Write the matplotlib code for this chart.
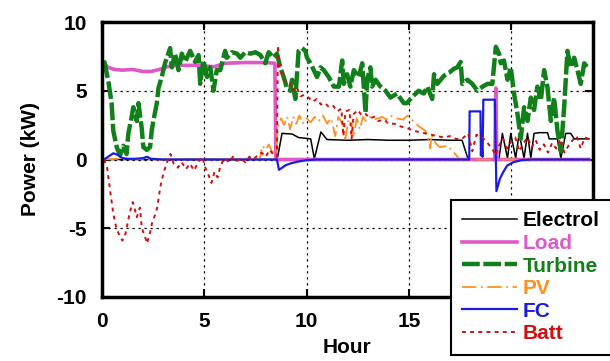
import matplotlib
matplotlib.use("Agg")
import matplotlib.pyplot as plt

plt.rcParams["font.family"] = ["Liberation Sans", "DejaVu Sans"]
plt.rcParams["font.weight"] = "bold"
plt.rcParams["font.size"] = 15
plt.rcParams["axes.unicode_minus"] = False

# ---- power flows over one day (hour, kW) ----
electrol_t = [0.1, 8.55, 8.6, 8.8, 9.3, 9.6, 10.2, 10.38, 10.7, 11.0, 12.0, 13.0, 14.0, 15.0,
              16.0, 17.0, 17.6, 17.9, 19.3, 19.41, 19.57, 19.82, 19.98, 20.22, 20.39, 20.63,
              20.8, 20.96, 21.12, 21.37, 21.78, 21.86, 22.26, 22.43, 22.67, 22.91, 23.08, 23.8]
electrol_kw = [0.0, 0.0, 0.3, 1.9, 1.85, 1.6, 1.5, 0.05, 2.0, 1.45, 1.4, 1.45, 1.4, 1.4,
               1.45, 1.4, 1.4, 0.0, 0.0, 0.1, 1.9, 0.1, 1.9, 0.1, 1.9, 0.1,
               1.9, 0.1, 1.9, 1.95, 1.95, 1.5, 1.5, 0.1, 1.9, 1.9, 1.5, 1.5]

load_t = [0.1, 0.3, 0.6, 1.0, 1.5, 2.0, 2.4, 2.8, 3.2, 3.6, 4.5, 5.0, 5.5, 6.0, 7.0, 8.0,
          8.45, 8.5, 19.2, 19.25, 19.3, 23.8]
load_kw = [7.0, 6.7, 6.55, 6.5, 6.55, 6.4, 6.4, 6.55, 6.75, 6.85, 6.85, 6.8, 6.75, 7.0, 7.05, 7.05,
           7.0, 0.0, 0.0, 5.2, 0.0, 0.0]

turbine_t = [0.10, 0.31, 0.47, 0.55, 0.72, 0.88, 1.04, 1.20, 1.29, 1.45, 1.53, 1.70, 1.78, 1.94,
             2.02, 2.19, 2.35, 2.43, 2.51, 2.68, 2.76, 2.92, 3.08, 3.33, 3.41, 3.57, 3.74, 3.90,
             4.06, 4.31, 4.55, 4.72, 4.80, 4.96, 5.13, 5.29, 5.45, 5.61, 5.78, 6.02, 6.10, 6.35,
             6.60, 6.76, 7.00, 7.25, 7.50, 7.74, 7.98, 8.15, 8.39, 8.55, 8.72, 8.88, 9.04, 9.20,
             9.29, 9.45, 9.61, 9.78, 9.94, 10.02, 10.19, 10.35, 10.51, 10.68, 10.84, 11.08, 11.33,
             11.58, 11.74, 11.82, 11.98, 12.14, 12.31, 12.55, 12.72, 12.88, 12.96, 13.12, 13.20,
             13.37, 13.61, 13.86, 14.10, 14.42, 14.75, 14.90, 15.20, 15.48, 15.73, 15.90, 16.14,
             16.23, 16.39, 16.72, 16.96, 17.20, 17.37, 17.53, 17.61, 17.86, 18.10, 18.35, 18.60,
             18.84, 19.08, 19.25, 19.41, 19.49, 19.65, 19.82, 19.98, 20.14, 20.31, 20.47, 20.63,
             20.80, 20.96, 21.12, 21.28, 21.45, 21.61, 21.77, 21.94, 22.10, 22.26, 22.43, 22.59,
             22.75, 22.91, 23.08, 23.24, 23.40, 23.57, 23.73]
turbine_kw = [7.2, 5.7, 4.1, 2.1, 0.9, 0.3, 1.0, 0.4, 1.9, 3.1, 3.8, 2.8, 4.1, 2.3,
              0.9, 0.7, 0.9, 2.1, 2.8, 4.1, 5.2, 6.0, 7.0, 8.1, 6.7, 7.7, 6.5, 7.7,
              7.1, 7.9, 7.1, 7.6, 5.5, 7.2, 6.0, 6.7, 5.0, 6.5, 6.5, 7.9, 7.4, 7.8,
              7.7, 7.4, 7.8, 7.7, 7.8, 7.6, 7.0, 7.8, 7.4, 7.7, 6.7, 6.0, 5.2, 5.0,
              5.8, 4.4, 7.9, 8.1, 7.9, 7.4, 7.0, 6.5, 6.0, 6.7, 6.5, 6.0, 5.3,
              5.3, 7.2, 5.5, 6.2, 5.3, 6.5, 6.0, 7.0, 3.4, 5.8, 6.7, 5.3,
              5.8, 5.3, 5.0, 4.5, 4.8, 4.1, 4.1, 4.6, 5.0, 4.8, 5.3, 4.4,
              6.2, 5.5, 6.1, 6.3, 6.6, 6.7, 7.1, 5.5, 5.8, 5.5, 5.0, 5.3,
              5.5, 5.5, 8.2, 7.7, 7.0, 7.2, 5.8, 6.7, 4.8, 3.3, 1.5, 3.8,
              2.8, 4.5, 3.6, 5.3, 4.3, 6.5, 5.3, 2.8, 4.5, 2.1, 0.6, 3.8,
              7.9, 6.7, 7.4, 6.5, 5.5, 7.0, 6.7]

pv_t = [0.1, 0.8, 1.0, 2.2, 2.5, 7.7, 7.85, 8.0, 8.15, 8.3, 8.5, 8.6, 8.75, 8.9, 9.05, 9.2,
        9.35, 9.5, 9.65, 9.8, 10.0, 10.2, 10.4, 10.6, 10.8, 11.0, 11.2, 11.4, 11.55, 11.75,
        11.9, 12.05, 12.2, 12.3, 12.45, 12.6, 12.75, 12.9, 13.1, 13.3, 13.5, 13.7, 13.9, 14.1,
        14.4, 14.7, 14.95, 15.2, 15.5, 15.8, 15.95, 16.05, 16.1, 16.3, 16.5, 16.9, 17.5, 23.8]
pv_kw = [0.0, 0.05, 0.0, 0.05, 0.0, 0.0, 1.0, 0.7, 1.1, 0.6, 0.4, 2.4, 3.0, 2.5, 3.1, 2.2,
         3.1, 2.6, 3.2, 2.6, 3.0, 2.7, 3.1, 2.8, 3.2, 2.6, 3.0, 1.7, 3.1, 2.6,
         1.5, 2.9, 2.7, 1.6, 3.0, 2.2, 3.1, 2.8, 3.1, 2.9, 3.0, 3.1, 2.9, 3.2,
         3.0, 2.9, 3.2, 2.8, 2.4, 2.1, 1.5, 0.8, 1.8, 1.2, 0.9, 1.0, 0.0, 0.0]

fc_t = [0.1, 0.3, 0.55, 0.75, 1.0, 1.3, 1.6, 2.0, 2.2, 2.4, 3.0, 8.55, 8.65, 8.8, 9.0, 9.3,
        9.6, 10.0, 10.5, 17.95, 17.97, 18.5, 18.52, 18.56, 18.6, 18.64, 19.2, 19.28, 19.45,
        19.6, 19.8, 20.1, 20.5, 21.0, 23.8]
fc_kw = [0.0, 0.2, 0.45, 0.35, 0.1, 0.05, 0.05, 0.1, 0.2, 0.05, 0.0, 0.0, -0.75, -0.6, -0.4, -0.25,
         -0.15, -0.05, 0.0, 0.0, 3.5, 3.5, 0.3, 1.0, 0.2, 4.35, 4.35, -2.3, -1.4,
         -0.95, -0.45, -0.2, -0.05, 0.0, 0.0]

batt_t = [0.1, 0.25, 0.4, 0.55, 0.7, 0.85, 1.0, 1.15, 1.35, 1.5, 1.6, 1.7, 1.85, 1.95, 2.1, 2.2,
          2.35, 2.45, 2.6, 2.7, 2.85, 3.0, 3.2, 3.35, 3.5, 3.7, 3.9, 4.1, 4.3, 4.5, 4.7, 4.9,
          5.05, 5.2, 5.35, 5.5, 5.65, 5.8, 6.0, 6.2, 6.4, 6.6, 6.8, 7.0, 7.2, 7.4, 7.6, 7.8,
          8.0, 8.2, 8.4, 8.55, 8.6, 8.7, 8.9, 9.0, 9.2, 9.3, 9.5, 9.7, 9.9, 10.1, 10.3, 10.5,
          10.7, 10.9, 11.1, 11.3, 11.5, 11.7, 11.8, 11.9, 12.1, 12.2, 12.3, 12.5, 12.7, 12.9,
          13.1, 13.3, 13.5, 13.8, 14.0, 14.3, 14.6, 14.9, 15.2, 15.5, 15.8, 16.1, 16.4, 16.7,
          17.0, 17.3, 17.6, 17.9, 18.1, 18.3, 18.6, 18.9, 19.1, 19.25, 19.4, 19.6, 19.8, 20.0,
          20.2, 20.4, 20.6, 20.8, 21.0, 21.2, 21.4, 21.6, 21.8, 22.0, 22.2, 22.4, 22.6, 22.8,
          23.0, 23.2, 23.4, 23.6, 23.8]
batt_kw = [0.0, -0.6, -2.3, -3.9, -5.0, -5.5, -5.9, -5.4, -3.9, -3.1, -3.6, -4.2, -3.5, -5.0, -5.6, -6.1,
           -5.3, -4.6, -4.0, -3.5, -2.0, -1.0, -0.1, 0.4, -0.3, -0.6, -0.2, -0.7, -0.3, -0.8, -0.2, 0.2,
           -0.6, -1.1, -1.7, -0.9, -1.3, -0.4, 0.1, -0.2, 0.2, -0.1, 0.1, -0.2, 0.2, 0.0, 0.3, 0.5,
           0.2, 0.7, 0.3, 0.2, 8.3, 6.5, 6.0, 5.6, 5.6, 5.0, 5.3, 4.6, 4.7, 4.5, 4.2, 4.4,
           4.0, 4.1, 3.8, 3.9, 3.5, 3.7, 1.7, 3.5, 3.6, 1.5, 3.3, 3.6, 3.2, 3.3,
           3.0, 3.1, 2.8, 2.9, 2.6, 2.6, 2.4, 2.3, 2.1, 2.0, 1.9, 1.8, 1.7, 1.6,
           1.7, 1.5, 1.5, 1.9, 0.6, 1.8, 1.6, 1.1, 0.7, 0.3, 1.0, 1.5, 0.8, 1.3,
           1.6, 0.6, 1.2, 1.6, 0.9, 1.4, 0.7, 1.1, 0.5, 1.2, 0.8, 1.5, 0.5, 1.0,
           1.4, 1.7, 0.8, 1.6, 1.5]

x_ticks = [0, 5, 10, 15, 20]
y_ticks = [-10, -5, 0, 5, 10]

fig = plt.figure(figsize=(6.10, 3.61), dpi=100)
ax = fig.add_axes([102 / 610, 1 - 297 / 361, (593 - 102) / 610, (297 - 22) / 361])

ax.plot(electrol_t, electrol_kw, color="black", lw=1.1, label="Electrol")
ax.plot(load_t, load_kw, color="#de58c8", lw=2.6, label="Load")
ax.plot(turbine_t, turbine_kw, color="#12801a", lw=3.2, dashes=(4, 0.8), label="Turbine")
ax.plot(pv_t, pv_kw, color="#ff9020", lw=1.3, dashes=(8, 2.5, 1, 2.5), label="PV")
ax.plot(fc_t, fc_kw, color="#1c1ce0", lw=1.6, label="FC")
ax.plot(batt_t, batt_kw, color="#d01010", lw=1.4, dashes=(2, 2.2), label="Batt")

ax.set_xlim(0, 24)
ax.set_ylim(-10, 10)
ax.set_xticks(x_ticks)
ax.set_yticks(y_ticks)
ax.grid(True, color="black", lw=0.9, linestyle=(0, (1.8, 3)))
ax.set_axisbelow(True)
ax.tick_params(direction="in", length=6, width=1.5, top=True, right=True, labelsize=15, pad=11)
for s in ax.spines.values():
    s.set_linewidth(2.5)

ax.set_xlabel("Hour", fontsize=15, fontweight="bold", labelpad=5)
ax.set_ylabel("Power (kW)", fontsize=15, fontweight="bold", labelpad=12)

handles, labels = ax.get_legend_handles_labels()
leg = fig.legend(handles, labels, loc="upper left", bbox_to_anchor=(451 / 610, 1 - 200 / 361),
                 borderaxespad=0, fancybox=False, frameon=True,
                 handlelength=2.6, handletextpad=0.3, labelspacing=0.17, borderpad=0.55,
                 labelcolor="linecolor", prop={"weight": "bold", "size": 15})
leg.get_frame().set_edgecolor("black")
leg.get_frame().set_linewidth(1.5)
leg.get_frame().set_alpha(1)

fig.savefig("out.png", dpi=100)
